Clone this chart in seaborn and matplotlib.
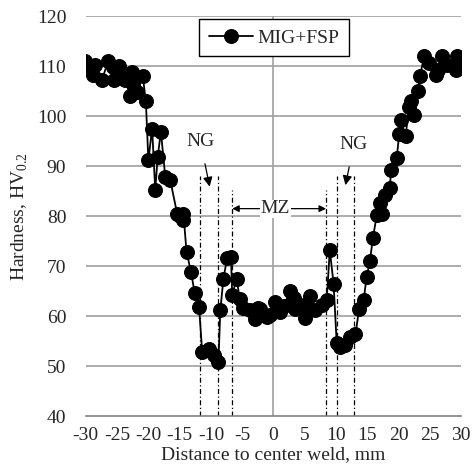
import matplotlib
matplotlib.use("Agg")
import matplotlib.pyplot as plt
import seaborn as sns
import pandas as pd
from matplotlib.ticker import MultipleLocator

distance_mm = [-30.1, -29.3, -28.8, -28.5, -27.4, -26.4, -25.6, -25.5, -24.7, -24.4,
               -23.7, -22.9, -22.6, -22.4, -21.8, -20.9, -20.4, -20.0, -19.4, -18.9,
               -18.5, -18.0, -17.3, -16.5, -15.4, -14.9, -14.5, -14.4, -13.9, -13.2,
               -12.6, -11.9, -11.4, -10.3, -9.5, -8.8, -8.5, -8.0, -7.4, -6.8,
               -6.6, -5.9, -5.4, -4.8, -3.7, -2.9, -2.5, -2.1, -1.5, -1.0,
               -0.5, 0.2, 1.1, 1.7, 2.6, 3.2, 3.5, 4.8, 5.1, 5.9,
               6.7, 7.8, 8.5, 9.0, 9.6, 10.1, 10.7, 11.5, 12.3, 13.1,
               13.7, 14.4, 14.9, 15.4, 15.9, 16.5, 17.0, 17.4, 17.9, 18.6,
               18.8, 19.7, 20.1, 20.4, 21.1, 21.7, 22.0, 22.5, 23.1, 23.4,
               24.1, 24.9, 25.9, 26.3, 27.0, 27.8, 29.1, 29.4, 29.6]
hardness_hv = [111.1, 109.9, 108.2, 110.2, 107.3, 111.1, 109.9, 107.3, 110.0, 107.9,
               107.2, 104.0, 108.9, 106.5, 104.9, 108.0, 103.0, 91.2, 97.5, 85.3,
               91.9, 96.9, 87.9, 87.2, 80.5, 80.0, 79.3, 80.5, 72.9, 68.9,
               64.7, 61.9, 52.9, 53.5, 52.2, 50.9, 61.2, 67.5, 71.7, 71.9,
               64.2, 67.5, 63.5, 61.7, 61.2, 59.5, 61.7, 61.5, 60.2, 59.9,
               60.2, 62.9, 60.9, 62.0, 65.1, 63.7, 61.5, 62.2, 59.7, 64.0,
               61.2, 62.2, 63.2, 73.2, 66.5, 54.7, 53.9, 54.2, 55.9, 56.4,
               61.5, 63.2, 67.9, 71.0, 75.7, 80.2, 82.7, 80.5, 84.2, 85.7,
               89.3, 91.7, 96.5, 99.2, 96.0, 101.9, 103.1, 100.2, 105.1, 108.0,
               112.0, 110.7, 108.2, 109.3, 112.0, 110.2, 109.2, 112.0, 109.9]
series_name = "MIG+FSP"

ng_lines = [-11.7, -8.9, 10.1, 12.8]
mz_lines = [-6.6, 8.4]

x_ticks = list(range(-30, 31, 5))
y_ticks = list(range(40, 121, 10))

df = pd.DataFrame({"x": distance_mm, "y": hardness_hv})

sns.set_style("white")
plt.rcParams["font.family"] = ["Liberation Serif", "DejaVu Serif"]
plt.rcParams["axes.unicode_minus"] = False
plt.rcParams["mathtext.fontset"] = "custom"
plt.rcParams["mathtext.rm"] = "Liberation Serif"

fig = plt.figure(figsize=(4.74, 4.74), dpi=100)
ax = fig.add_axes([0.181, 0.122, 0.792, 0.844])

for y in y_ticks[1:]:
    ax.axhline(y, color="#a0a0a0", lw=1.2, zorder=0)
ax.axvline(0, color="#a0a0a0", lw=1.2, zorder=0)

for xv in ng_lines:
    ax.plot([xv, xv], [40, 88], color="black", lw=0.9, ls=(0, (4, 2, 1, 2)), zorder=1)
for xv in mz_lines:
    ax.plot([xv, xv], [40, 85.3], color="black", lw=0.9, ls=(0, (4, 2, 1, 2)), zorder=1)

sns.lineplot(data=df, x="x", y="y", sort=False, estimator=None, ax=ax,
             color="black", lw=1.3, marker="o", markersize=10,
             markeredgecolor="black", label=series_name, zorder=3)

fs = 14
ax.annotate("NG", xy=(-10.2, 85.9), xytext=(-11.7, 95.0), ha="center", va="center",
            fontsize=fs, arrowprops=dict(arrowstyle="-|>", color="black", lw=0.9,
                                         shrinkA=8, shrinkB=0))
ax.annotate("NG", xy=(11.5, 86.2), xytext=(12.85, 94.4), ha="center", va="center",
            fontsize=fs, arrowprops=dict(arrowstyle="-|>", color="black", lw=0.9,
                                         shrinkA=8, shrinkB=0))
ax.text(0.3, 81.5, "MZ", ha="center", va="center", fontsize=fs,
        bbox=dict(facecolor="white", edgecolor="none", pad=0.3), zorder=4)
ax.annotate("", xy=(-6.6, 81.5), xytext=(-2.2, 81.5),
            arrowprops=dict(arrowstyle="-|>", color="black", lw=0.9, shrinkA=0, shrinkB=0))
ax.annotate("", xy=(8.4, 81.5), xytext=(2.8, 81.5),
            arrowprops=dict(arrowstyle="-|>", color="black", lw=0.9, shrinkA=0, shrinkB=0))

ax.set_xlim(-30, 30)
ax.set_ylim(40, 120)
ax.set_xticks(x_ticks)
ax.set_xticklabels([str(t) for t in x_ticks])
ax.set_yticks(y_ticks)
ax.xaxis.set_minor_locator(MultipleLocator(1))

for s in ["top", "right", "left"]:
    ax.spines[s].set_visible(False)
ax.spines["bottom"].set_color("#808080")
ax.spines["bottom"].set_linewidth(1.2)

ax.tick_params(axis="x", which="major", direction="inout", length=8, width=1, color="#808080",
               labelsize=fs, pad=4)
ax.tick_params(axis="x", which="minor", direction="in", length=3, width=0.8, color="#808080")
ax.tick_params(axis="y", which="major", length=0, labelsize=fs, pad=14)

ax.set_xlabel("Distance to center weld, mm", fontsize=fs, labelpad=1)
ax.set_ylabel("Hardness, HV$_{0.2}$", fontsize=fs, labelpad=5)

leg = ax.legend(loc="center", bbox_to_anchor=(0.501, 0.946), fontsize=fs, frameon=True,
                fancybox=False, edgecolor="black", framealpha=1, handlelength=2.3,
                borderpad=0.5, handletextpad=0.2)
leg.get_frame().set_linewidth(1.0)

fig.savefig("out.png", dpi=100)
